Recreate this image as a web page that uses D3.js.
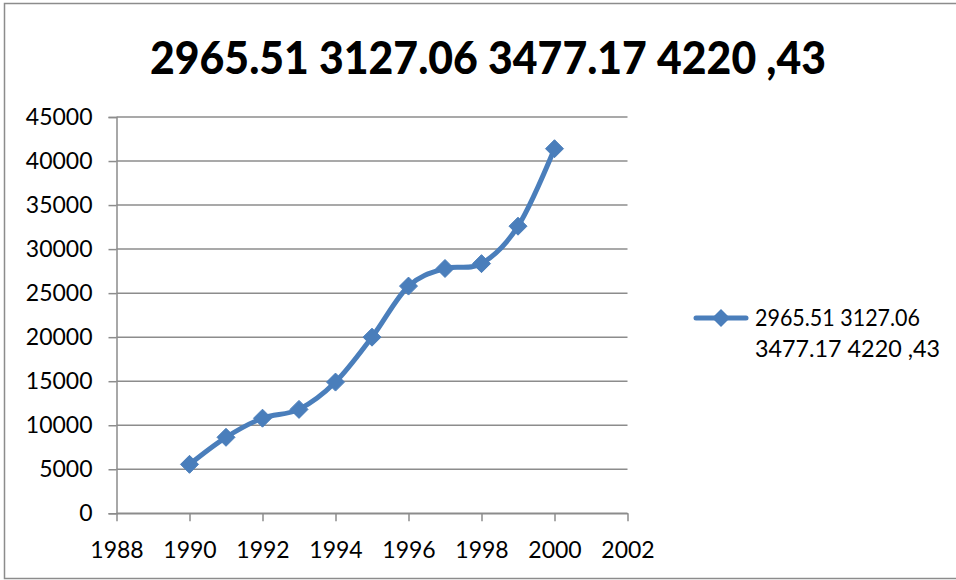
<!DOCTYPE html>
<html>
<head>
<meta charset="utf-8">
<script src="https://cdn.jsdelivr.net/npm/d3@7/dist/d3.min.js"></script>
<style>
  html, body { margin: 0; padding: 0; background: #fff; }
  svg { display: block; }
  text { font-family: Lato, "Open Sans", sans-serif; fill: #000; }
</style>
</head>
<body>
<svg id="chart" width="956" height="580"></svg>
<script>
// Series values by year
const years = [1990, 1991, 1992, 1993, 1994, 1995, 1996, 1997, 1998, 1999, 2000];
const values = [5560, 8630, 10800, 11800, 14900, 20000, 25800, 27800, 28350, 32600, 41400];
const xTicks = [1988, 1990, 1992, 1994, 1996, 1998, 2000, 2002];
const yTicks = [0, 5000, 10000, 15000, 20000, 25000, 30000, 35000, 40000, 45000];
const titleText = "2965.51 3127.06 3477.17 4220 ,43";
const legendLines = ["2965.51 3127.06", "3477.17 4220 ,43"];

const W = 956, H = 580;
const svg = d3.select("#chart");
const blue = "#4a7ebb";
const gridColor = "#8c8c8c";

// outer chart frame
svg.append("rect")
  .attr("x", 4.5).attr("y", 3.5)
  .attr("width", W + 10).attr("height", 575)
  .attr("fill", "none").attr("stroke", "#8c8c8c").attr("stroke-width", 1.5);

const plot = { left: 116.5, right: 627.5, top: 117, bottom: 513.3 };

const x = d3.scaleLinear().domain([1988, 2002]).range([plot.left, plot.right]);
const y = d3.scaleLinear().domain([0, 45000]).range([plot.bottom, plot.top]);

// title
svg.append("text")
  .attr("x", 488).attr("y", 74)
  .attr("text-anchor", "middle")
  .attr("font-size", 46).attr("font-weight", 900)
  .attr("textLength", 676).attr("lengthAdjust", "spacingAndGlyphs")
  .text(titleText);

// horizontal gridlines
svg.append("g")
  .selectAll("line").data(yTicks).join("line")
  .attr("x1", plot.left).attr("x2", plot.right)
  .attr("y1", d => y(d)).attr("y2", d => y(d))
  .attr("stroke", gridColor).attr("stroke-width", 1.5);

// y axis
const yAxis = svg.append("g")
  .attr("transform", `translate(${plot.left},0)`)
  .call(d3.axisLeft(y).tickValues(yTicks).tickSize(8).tickPadding(16).tickFormat(d3.format("d")));
yAxis.select(".domain").attr("stroke", gridColor).attr("stroke-width", 1.5);
yAxis.selectAll(".tick line").attr("stroke", gridColor).attr("stroke-width", 1.5);
yAxis.selectAll(".tick text")
  .attr("font-family", "Lato, sans-serif").attr("font-size", 23).attr("fill", "#000");

// x axis
const xAxis = svg.append("g")
  .attr("transform", `translate(0,${plot.bottom})`)
  .call(d3.axisBottom(x).tickValues(xTicks).tickSize(8).tickSizeOuter(0).tickPadding(20).tickFormat(d3.format("d")));
xAxis.select(".domain").attr("stroke", gridColor).attr("stroke-width", 1.5);
xAxis.selectAll(".tick line").attr("stroke", gridColor).attr("stroke-width", 1.5);
xAxis.selectAll(".tick text")
  .attr("font-family", "Lato, sans-serif").attr("font-size", 23).attr("fill", "#000");

// smoothed series line
const pts = years.map((yr, i) => [yr, values[i]]);
const line = d3.line()
  .x(d => x(d[0])).y(d => y(d[1]))
  .curve(d3.curveCardinal.tension(0));
svg.append("path")
  .datum(pts)
  .attr("d", line)
  .attr("fill", "none").attr("stroke", blue)
  .attr("stroke-width", 5).attr("stroke-linejoin", "round").attr("stroke-linecap", "round");

// diamond markers
const diamond = "M0,-9L9,0L0,9L-9,0Z";
svg.append("g")
  .selectAll("path").data(pts).join("path")
  .attr("transform", d => `translate(${x(d[0])},${y(d[1])})`)
  .attr("d", diamond)
  .attr("fill", blue).attr("stroke", blue).attr("stroke-width", 1);

// legend
const lg = svg.append("g");
lg.append("line")
  .attr("x1", 696).attr("x2", 746).attr("y1", 318).attr("y2", 318)
  .attr("stroke", blue).attr("stroke-width", 5).attr("stroke-linecap", "round");
lg.append("path")
  .attr("transform", "translate(721,318)")
  .attr("d", diamond)
  .attr("fill", blue);
lg.selectAll("text").data(legendLines).join("text")
  .attr("x", 755).attr("y", (d, i) => 326 + i * 31)
  .attr("font-size", 23)
  .attr("textLength", (d, i) => i === 0 ? 165 : 185)
  .attr("lengthAdjust", "spacingAndGlyphs")
  .text(d => d);
</script>
</body>
</html>
